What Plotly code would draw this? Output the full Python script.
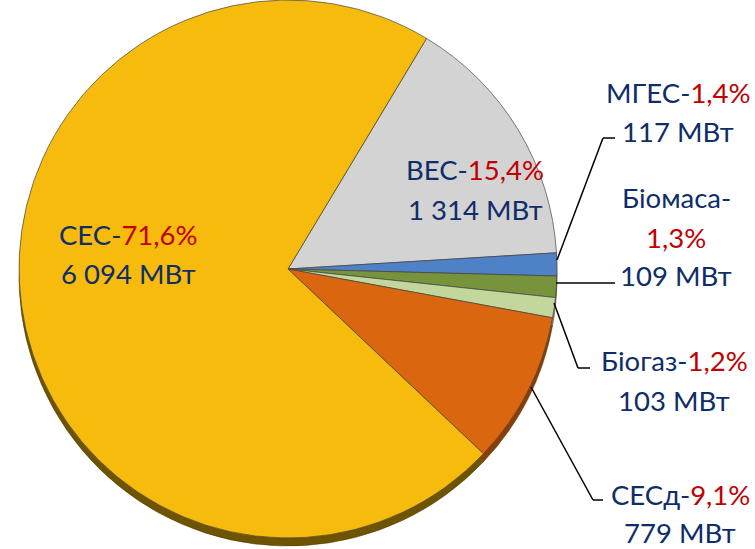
import plotly.graph_objects as go

# Дані
names = ["ВЕС", "МГЕС", "Біомаса", "Біогаз", "СЕСд", "СЕС"]
mw = [1314, 117, 109, 103, 779, 6094]
pct = ["15,4", "1,4", "1,3", "1,2", "9,1", "71,6"]
colors = ["#D3D3D3", "#4F81C6", "#77933C", "#C3D69B", "#DA670F", "#F6BB0C"]
rim_colors = ["#8A8A8A", "#2F4F80", "#4A5C22", "#7E8A60", "#8A3E06", "#6E5300"]

W, H = 755, 549
NAVY = "#0F2D69"
RED = "#C00000"
FONT = "Lato"
FS = 27.5


def px(x):
    return x / W


def py(y):
    return 1 - y / H


def fmt_mw(v):
    return f"{v:,}".replace(",", " ") + " МВт"


def red(s):
    return f"<span style='color:{RED}'>{s}</span>"


# центр і радіус пирога (пікселі)
cx, cy, r = 288, 269, 269
dom_x = [px(cx - r), px(cx + r)]
dom_y = [py(cy + r), py(cy - r)]
dep = 8

fig = go.Figure()

# "3D" край
fig.add_trace(go.Pie(
    values=mw, labels=names, sort=False, direction="clockwise", rotation=31,
    marker=dict(colors=rim_colors, line=dict(color="#4a3a00", width=0.5)),
    textinfo="none", hoverinfo="skip",
    domain=dict(x=dom_x, y=[py(cy + r + dep), py(cy - r + dep)]),
))

fig.add_trace(go.Pie(
    values=mw, labels=names, sort=False, direction="clockwise", rotation=31,
    marker=dict(colors=colors, line=dict(color="rgba(70,70,70,0.7)", width=1)),
    textinfo="none", hoverinfo="label+value",
    domain=dict(x=dom_x, y=dom_y),
))

# підписи: x центру та y кожного рядка (пікселі)
label_pos = {
    "ВЕС": (475, [169, 209]),
    "СЕС": (128, [235, 273]),
    "МГЕС": (678, [92, 131]),
    "Біомаса": (676, [198, 237, 275]),
    "Біогаз": (674, [360, 400]),
    "СЕСд": (680, [494, 532]),
}

for n, v, p in zip(names, mw, pct):
    x, ys = label_pos[n]
    if len(ys) == 3:
        lines = [f"{n}-", red(f"{p}%"), fmt_mw(v)]
    else:
        lines = [f"{n}-" + red(f"{p}%"), fmt_mw(v)]
    for t, y in zip(lines, ys):
        fig.add_annotation(
            x=px(x), y=py(y), xref="paper", yref="paper", text=t,
            showarrow=False, xanchor="center", yanchor="middle",
            font=dict(family=FONT, size=FS, color=NAVY),
        )

# лінії-виноски
leaders = [
    [(557, 260), (603, 138), (615, 138)],
    [(556, 283), (615, 283)],
    [(554, 303), (578, 368), (590, 368)],
    [(531, 387), (593, 500), (603, 500)],
]
for pts in leaders:
    for (x0, y0), (x1, y1) in zip(pts[:-1], pts[1:]):
        fig.add_shape(type="line", xref="paper", yref="paper",
                      x0=px(x0), y0=py(y0), x1=px(x1), y1=py(y1),
                      line=dict(color="black", width=1.5))

fig.update_layout(
    width=W, height=H, margin=dict(l=0, r=0, t=0, b=0),
    paper_bgcolor="white", plot_bgcolor="white", showlegend=False,
)

fig.write_html("out.html", config={"displayModeBar": False},
               post_script="document.body.style.margin='0';")
